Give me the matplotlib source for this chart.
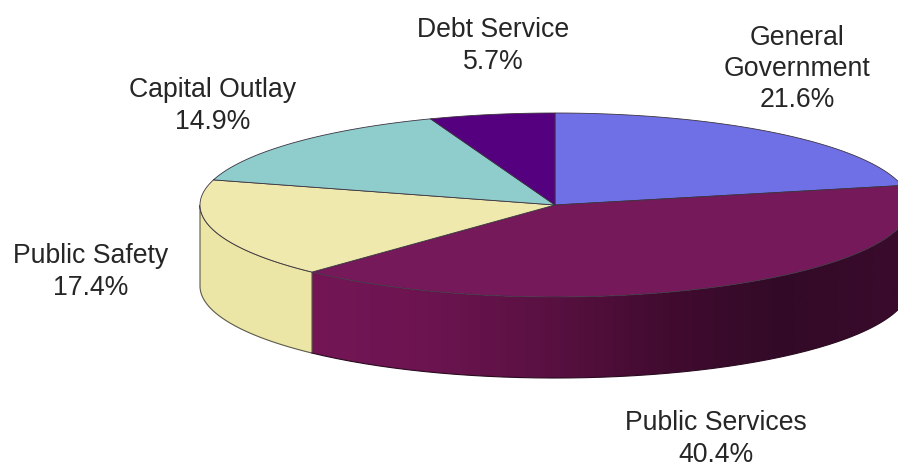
import numpy as np
import matplotlib
matplotlib.use("Agg")
import matplotlib.pyplot as plt
from matplotlib.patches import Polygon
from matplotlib.colors import LinearSegmentedColormap

# share of spending by function, clockwise from 12 o'clock
categories = ["General\nGovernment", "Public Services", "Public Safety", "Capital Outlay", "Debt Service"]
shares = [21.6, 40.4, 17.4, 14.9, 5.7]
top_colors = ["#7070e6", "#75195a", "#efe9ad", "#8ecdcc", "#55007e"]
label_xy = [(797, 69), (716, 439), (91, 272), (213, 106), (493, 46)]

# pie geometry in pixels
cx, cy = 555, 205
rx, ry = 355, 92
depth = 81
edge = "#3c3340"

plt.rcParams["font.family"] = ["Liberation Sans", "DejaVu Sans"]

fig = plt.figure(figsize=(8.98, 4.67), dpi=100)
ax = fig.add_axes([0, 0, 1, 1])
ax.set_xlim(0, 898)
ax.set_ylim(467, 0)
ax.axis("off")


def rim(a0, a1, n=200):
    # points on the ellipse, angles in degrees clockwise from the top
    t = np.radians(np.linspace(a0, a1, n))
    return np.column_stack([cx + rx * np.sin(t), cy - ry * np.cos(t)])


def side_poly(a0, a1):
    upper = rim(a0, a1)
    lower = upper[::-1] + [0, depth]
    return np.vstack([upper, lower])


ends = np.cumsum(shares) / np.sum(shares) * 360
starts = np.concatenate([[0], ends[:-1]])

# walls only show along the front half of the ellipse
services_wall = Polygon(side_poly(90, ends[1]), closed=True, fc="none", ec="none", zorder=2)
ax.add_patch(services_wall)
shade = LinearSegmentedColormap.from_list(
    "wall", ["#741656", "#6c1450", "#5a1142", "#420b30", "#320a27", "#3a0a2c"]
)
img = ax.imshow(
    np.linspace(0, 1, 256).reshape(1, -1),
    cmap=shade,
    extent=[310, 898, 467, 0],
    aspect="auto",
    zorder=2,
)
img.set_clip_path(services_wall)
ax.set_xlim(0, 898)
ax.set_ylim(467, 0)

ax.add_patch(Polygon(side_poly(ends[1], 270), closed=True, fc="#ebe5a6", ec="#5c5a48", lw=0.8, zorder=2))
ax.plot(*side_poly(90, ends[1])[200:].T, color="#2a0a20", lw=0.8, zorder=3)

# top face
for a0, a1, color in zip(starts, ends, top_colors):
    pts = np.vstack([[cx, cy], rim(a0, a1)])
    ax.add_patch(Polygon(pts, closed=True, fc=color, ec=edge, lw=0.6, zorder=4))

for name, share, (x, y) in zip(categories, shares, label_xy):
    ax.text(x, y, f"{name}\n{share}%", ha="center", va="center", ma="center",
            fontsize=19.2, color="#262626", linespacing=1.27, zorder=5)

fig.savefig("out.png", dpi=100)
